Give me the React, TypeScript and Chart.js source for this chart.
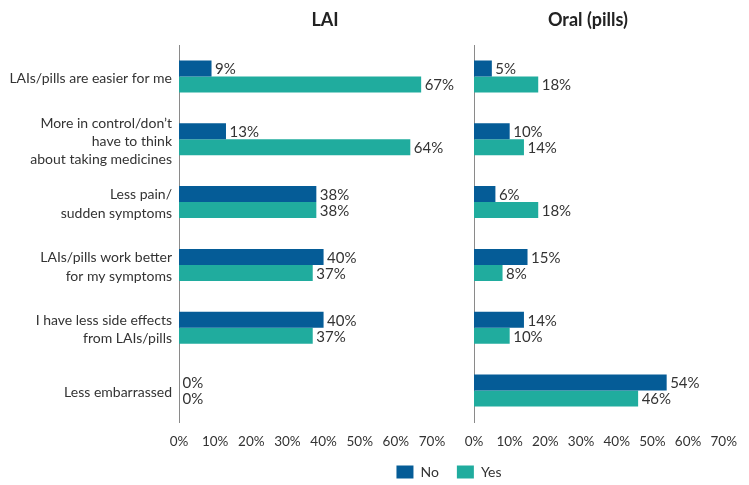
import React, { useEffect, useRef } from "react";
import { Chart, registerables } from "chart.js";

Chart.register(...registerables);

const categories: (string | string[])[] = [
  "LAIs/pills are easier for me",
  ["More in control/don’t", "have to think", "about taking medicines"],
  ["Less pain/", "sudden symptoms"],
  ["LAIs/pills work better", "for my symptoms"],
  ["I have less side effects", "from LAIs/pills"],
  "Less embarrassed",
];
const laiNo = [9, 13, 38, 40, 40, 0];
const laiYes = [67, 64, 38, 37, 37, 0];
const oralNo = [5, 10, 6, 15, 14, 54];
const oralYes = [18, 14, 18, 8, 10, 46];
const xTickValues = [0, 10, 20, 30, 40, 50, 60, 70];
const seriesNames = ["No", "Yes"];
const panelTitles = ["LAI", "Oral (pills)"];

const COLOR_NO = "#055C97";
const COLOR_YES = "#20AC9E";
const TEXT = "#333333";
const AXIS = "#8a8a8a";
const FONT = "Lato, 'Open Sans', sans-serif";

const W = 749;
const H = 485;

function titlePlugin(text: string, cx: number) {
  return {
    id: "panelTitle",
    afterDraw(chart: any) {
      const { ctx } = chart;
      ctx.save();
      ctx.font = `bold 18px ${FONT}`;
      ctx.fillStyle = "#222";
      ctx.textAlign = "center";
      ctx.textBaseline = "middle";
      ctx.fillText(text, cx, 20);
      ctx.restore();
    },
  };
}

const valueLabels = {
  id: "valueLabels",
  afterDatasetsDraw(chart: any) {
    const ctx = chart.ctx;
    ctx.save();
    ctx.font = `15px ${FONT}`;
    ctx.fillStyle = TEXT;
    ctx.textAlign = "left";
    ctx.textBaseline = "middle";
    chart.data.datasets.forEach((ds: any, i: number) => {
      const meta = chart.getDatasetMeta(i);
      meta.data.forEach((bar: any, j: number) => {
        ctx.fillText(ds.data[j] + "%", bar.x + 3.5, bar.y + 1);
      });
    });
    ctx.restore();
  },
};

const legendPlace = {
  id: "legendPlace",
  beforeDraw(chart: any) {
    const lg = chart.legend;
    if (!lg) return;
    const w = 200;
    const h = lg.height;
    lg.left = 449 - w / 2;
    lg.right = lg.left + w;
    lg.width = w;
    lg.top = 447;
    lg.bottom = lg.top + h + 20;
  },
};

function makeDatasets(no: number[], yes: number[]) {
  return [
    { label: seriesNames[0], data: no, backgroundColor: COLOR_NO, borderWidth: 0 },
    { label: seriesNames[1], data: yes, backgroundColor: COLOR_YES, borderWidth: 0 },
  ];
}

function xScale() {
  return {
    type: "linear" as const,
    min: xTickValues[0],
    max: xTickValues[xTickValues.length - 1],
    grid: { display: false, drawTicks: false },
    border: { display: false },
    afterFit: (s: any) => {
      s.height = 30;
    },
    ticks: {
      stepSize: xTickValues[1] - xTickValues[0],
      callback: (v: any) => v + "%",
      font: { family: FONT, size: 13.5 },
      color: TEXT,
      padding: 12,
      autoSkip: false,
      maxRotation: 0,
    },
  };
}

export default function App() {
  const leftRef = useRef<HTMLCanvasElement>(null);
  const rightRef = useRef<HTMLCanvasElement>(null);

  useEffect(() => {
    const common = {
      indexAxis: "y" as const,
      responsive: false,
      animation: false as const,
      events: [] as any[],
      datasets: { bar: { categoryPercentage: 0.51, barPercentage: 1 } },
    };

    const left = new Chart(leftRef.current!, {
      type: "bar",
      data: { labels: categories as any, datasets: makeDatasets(laiNo, laiYes) },
      options: {
        ...common,
        layout: { padding: { left: 2, right: 317, top: 45, bottom: 33 } },
        plugins: { legend: { display: false }, tooltip: { enabled: false } },
        scales: {
          y: {
            afterFit: (s: any) => {
              s.width = 177;
            },
            grid: { display: false, drawTicks: false },
            border: { display: true, color: AXIS, width: 1 },
            ticks: {
              font: { family: FONT, size: 14, lineHeight: 1.3 },
              color: TEXT,
              padding: 7,
              labelOffset: 2,
            },
          },
          x: xScale(),
        },
      } as any,
      plugins: [titlePlugin(panelTitles[0], 325), valueLabels],
    });

    const right = new Chart(rightRef.current!, {
      type: "bar",
      data: { labels: categories as any, datasets: makeDatasets(oralNo, oralYes) },
      options: {
        ...common,
        layout: { padding: { left: 474, right: 22, top: 45, bottom: 0 } },
        plugins: {
          legend: {
            display: true,
            position: "bottom",
            maxHeight: 33,
            labels: {
              boxWidth: 17,
              boxHeight: 13,
              padding: 18,
              color: TEXT,
              font: { family: FONT, size: 14 },
            },
          },
          tooltip: { enabled: false },
        },
        scales: {
          y: {
            afterFit: (s: any) => {
              s.width = 0;
            },
            grid: { display: false, drawTicks: false },
            border: { display: true, color: AXIS, width: 1 },
            ticks: { display: false },
          },
          x: xScale(),
        },
      } as any,
      plugins: [titlePlugin(panelTitles[1], 588), valueLabels, legendPlace],
    });

    return () => {
      left.destroy();
      right.destroy();
    };
  }, []);

  const canvasStyle: React.CSSProperties = {
    position: "absolute",
    left: 0,
    top: 0,
    width: W,
    height: H,
  };

  return (
    <div style={{ position: "absolute", left: 0, top: 0, width: W, height: H, background: "#fff" }}>
      <canvas ref={leftRef} width={W} height={H} style={canvasStyle} />
      <canvas ref={rightRef} width={W} height={H} style={canvasStyle} />
    </div>
  );
}
